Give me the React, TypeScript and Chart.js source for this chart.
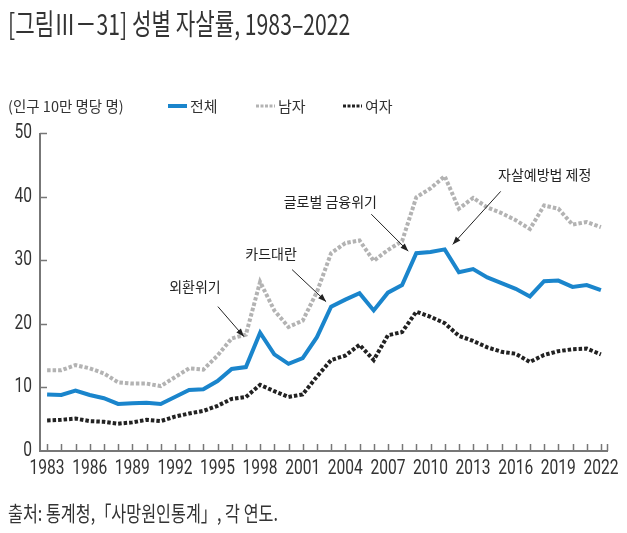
import React, { useEffect, useRef } from "react";
import { Chart, registerables } from "chart.js";

Chart.register(...registerables);

const years: string[] = [
  "1983","1984","1985","1986","1987","1988","1989","1990","1991","1992",
  "1993","1994","1995","1996","1997","1998","1999","2000","2001","2002",
  "2003","2004","2005","2006","2007","2008","2009","2010","2011","2012",
  "2013","2014","2015","2016","2017","2018","2019","2020","2021","2022",
];

const totalRate: number[] = [
  8.9, 8.8, 9.5, 8.8, 8.3, 7.4, 7.5, 7.6, 7.4, 8.5,
  9.6, 9.7, 11.0, 12.9, 13.2, 18.6, 15.2, 13.7, 14.6, 17.9,
  22.7, 23.8, 24.8, 22.1, 24.9, 26.1, 31.1, 31.3, 31.7, 28.1,
  28.6, 27.3, 26.4, 25.5, 24.3, 26.7, 26.8, 25.8, 26.1, 25.3,
];

const maleRate: number[] = [
  12.7, 12.7, 13.5, 13.0, 12.2, 10.8, 10.6, 10.6, 10.2, 11.6,
  13.0, 12.8, 15.0, 17.7, 18.3, 26.6, 22.1, 19.5, 20.5, 25.0,
  31.1, 32.7, 33.1, 29.9, 31.6, 33.0, 39.9, 41.3, 43.2, 38.1,
  39.8, 38.3, 37.4, 36.3, 34.9, 38.6, 38.1, 35.6, 36.0, 35.2,
];

const femaleRate: number[] = [
  4.8, 4.9, 5.1, 4.7, 4.6, 4.3, 4.5, 4.9, 4.7, 5.4,
  5.9, 6.3, 7.1, 8.2, 8.5, 10.4, 9.4, 8.5, 8.9, 11.7,
  14.3, 15.0, 16.7, 14.3, 18.2, 18.7, 21.9, 21.1, 20.1, 18.1,
  17.3, 16.3, 15.6, 15.3, 14.0, 15.1, 15.7, 16.0, 16.1, 15.2,
];

const seriesNames: string[] = ["전체", "남자", "여자"];
const yTicks: number[] = [0, 10, 20, 30, 40, 50];

const titleText = "[그림Ⅲ－31] 성별 자살률, 1983–2022";
const unitText = "(인구 10만 명당 명)";
const sourceText = "출처: 통계청,「사망원인통계」, 각 연도.";

const annLabels: string[] = ["외환위기", "카드대란", "글로벌 금융위기", "자살예방법 제정"];
const annYears: string[] = ["1997", "2003", "2009", "2011"];
const annSeries: number[] = [1, 0, 0, 0];

const BLUE = "#1a85cc";
const GREY = "#b3b3b3";
const BLACK = "#222222";
const AXIS = "#777777";
const TICKFONT = "Roboto, 'DejaVu Sans', sans-serif";
const KFONT = "'Noto Sans CJK KR', 'Noto Sans', sans-serif";

function ScaledText(props: { text: string; size: number; width: number; top: number; left: number; color: string }) {
  const ref = useRef<HTMLDivElement | null>(null);
  useEffect(() => {
    const el = ref.current;
    if (!el) return;
    el.style.transform = "none";
    const w = el.scrollWidth;
    if (w > 0) el.style.transform = `scaleX(${props.width / w})`;
  }, [props.text, props.width]);
  return (
    <div
      ref={ref}
      style={{
        position: "absolute",
        top: props.top,
        left: props.left,
        fontFamily: KFONT,
        fontSize: props.size,
        color: props.color,
        whiteSpace: "nowrap",
        transformOrigin: "left top",
        lineHeight: 1,
        display: "inline-block",
      }}
    >
      {props.text}
    </div>
  );
}

export default function App() {
  const canvasRef = useRef<HTMLCanvasElement | null>(null);

  useEffect(() => {
    document.body.style.margin = "0";
    const canvas = canvasRef.current;
    if (!canvas) return;

    const annTip = [[-2, 2], [-5, -5], [-8, -2], [8, -5]];
    const annVec = [[-26, -30], [-34, -32], [-37, -37], [48, -53]];
    const annText = [[-23, -20], [-21, -16], [-41, -13], [44, -17]];

    const overlay = {
      id: "overlay",
      afterDatasetsDraw(chart: any) {
        const ctx = chart.ctx;
        const area = chart.chartArea;
        const xs = chart.scales.x;
        const ys = chart.scales.y;
        ctx.save();
        // axes
        ctx.strokeStyle = AXIS;
        ctx.lineWidth = 2;
        ctx.beginPath();
        ctx.moveTo(area.left, area.top);
        ctx.lineTo(area.left, area.bottom);
        ctx.lineTo(area.right, area.bottom);
        ctx.stroke();
        ctx.lineWidth = 1.5;
        ctx.beginPath();
        for (let i = 0; i < years.length; i++) {
          const px = Math.round(xs.getPixelForValue(i)) + 0.5;
          ctx.moveTo(px, area.bottom);
          ctx.lineTo(px, area.bottom - 7);
        }
        ctx.moveTo(area.right - 0.5, area.bottom);
        ctx.lineTo(area.right - 0.5, area.bottom - 7);
        for (const v of yTicks) {
          if (v === 0) continue;
          const py = Math.round(ys.getPixelForValue(v)) + 0.5;
          ctx.moveTo(area.left, py);
          ctx.lineTo(area.left + 7, py);
        }
        ctx.stroke();

        // tick labels (condensed)
        ctx.font = `20px ${TICKFONT}`;
        ctx.fillStyle = "#333";
        const sx = 35 / ctx.measureText("1983").width;
        ctx.textBaseline = "middle";
        ctx.textAlign = "center";
        for (let i = 0; i < years.length; i += 3) {
          const px = xs.getPixelForValue(i);
          ctx.save();
          ctx.translate(px, area.bottom + 18);
          ctx.scale(sx, 1);
          ctx.fillText(years[i], 0, 0);
          ctx.restore();
        }
        ctx.textAlign = "right";
        for (const v of yTicks) {
          const py = ys.getPixelForValue(v);
          ctx.save();
          ctx.translate(area.left - 8, py);
          ctx.scale(sx, 1);
          ctx.fillText(String(v), 0, 0);
          ctx.restore();
        }

        // annotations
        const seriesData = [totalRate, maleRate, femaleRate];
        ctx.font = `14px ${KFONT}`;
        ctx.fillStyle = BLACK;
        ctx.strokeStyle = BLACK;
        ctx.textAlign = "center";
        ctx.textBaseline = "middle";
        for (let k = 0; k < annLabels.length; k++) {
          const idx = years.indexOf(annYears[k]);
          const px = xs.getPixelForValue(idx);
          const py = ys.getPixelForValue(seriesData[annSeries[k]][idx]);
          const tx = px + annTip[k][0];
          const ty = py + annTip[k][1];
          const ax = tx + annVec[k][0];
          const ay = ty + annVec[k][1];
          ctx.lineWidth = 1;
          ctx.beginPath();
          ctx.moveTo(ax, ay);
          ctx.lineTo(tx, ty);
          ctx.stroke();
          const ang = Math.atan2(ty - ay, tx - ax);
          const L = 8, W = 3;
          ctx.beginPath();
          ctx.moveTo(tx, ty);
          ctx.lineTo(tx - L * Math.cos(ang) + W * Math.sin(ang), ty - L * Math.sin(ang) - W * Math.cos(ang));
          ctx.lineTo(tx - L * Math.cos(ang) - W * Math.sin(ang), ty - L * Math.sin(ang) + W * Math.cos(ang));
          ctx.closePath();
          ctx.fill();
          ctx.fillText(annLabels[k], ax + annText[k][0], ay + annText[k][1]);
        }

        // unit + legend
        const ly = 106;
        ctx.textAlign = "left";
        ctx.fillStyle = "#333";
        ctx.font = `14.5px ${KFONT}`;
        ctx.fillText(unitText, 8, ly);
        ctx.font = `15px ${KFONT}`;
        const legX = [168, 256, 343];
        const legColors = [BLUE, GREY, BLACK];
        const legDash = [[], [3, 1.5], [3, 1.5]];
        const legW = [4, 3, 3];
        for (let k = 0; k < 3; k++) {
          ctx.strokeStyle = legColors[k];
          ctx.lineWidth = legW[k];
          ctx.setLineDash(legDash[k]);
          ctx.beginPath();
          ctx.moveTo(legX[k], ly);
          ctx.lineTo(legX[k] + 19, ly);
          ctx.stroke();
          ctx.setLineDash([]);
          ctx.fillStyle = "#333";
          ctx.fillText(seriesNames[k], legX[k] + 22, ly);
        }
        ctx.restore();
      },
    };

    const chart = new Chart(canvas, {
      type: "line",
      data: {
        labels: years,
        datasets: [
          {
            label: seriesNames[1],
            data: maleRate,
            borderColor: GREY,
            borderWidth: 4,
            borderDash: [3.5, 2],
            pointRadius: 0,
            tension: 0,
            fill: false,
          },
          {
            label: seriesNames[2],
            data: femaleRate,
            borderColor: BLACK,
            borderWidth: 4,
            borderDash: [3.5, 2],
            pointRadius: 0,
            tension: 0,
            fill: false,
          },
          {
            label: seriesNames[0],
            data: totalRate,
            borderColor: BLUE,
            borderWidth: 4,
            pointRadius: 0,
            tension: 0,
            fill: false,
          },
        ],
      },
      options: {
        animation: false,
        responsive: false,
        maintainAspectRatio: false,
        devicePixelRatio: 1,
        layout: { padding: { top: 133, right: 19, bottom: 47, left: 0 } },
        plugins: { legend: { display: false }, tooltip: { enabled: false } },
        scales: {
          x: {
            type: "category",
            offset: true,
            grid: { display: false, drawTicks: false },
            border: { display: false },
            afterFit: (s: any) => { s.height = 35; },
            ticks: { display: false, autoSkip: false },
          },
          y: {
            min: 0,
            max: 50,
            grid: { display: false, drawTicks: false },
            border: { display: false },
            afterFit: (s: any) => { s.width = 40; },
            ticks: { display: false, stepSize: 10 },
          },
        },
      },
      plugins: [overlay],
    });
    return () => chart.destroy();
  }, []);

  return (
    <div style={{ position: "relative", width: 627, height: 533, background: "#fff" }}>
      <canvas ref={canvasRef} width={627} height={533} style={{ position: "absolute", left: 0, top: 0, width: 627, height: 533 }} />
      <ScaledText text={titleText} size={29} width={342} top={8} left={8} color="#333" />
      <ScaledText text={sourceText} size={21} width={270} top={502} left={8} color="#333" />
    </div>
  );
}
